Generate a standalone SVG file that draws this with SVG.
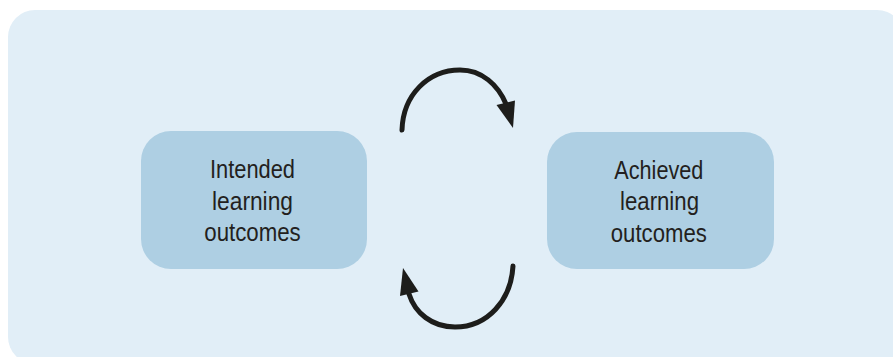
<svg xmlns="http://www.w3.org/2000/svg" width="893" height="357" viewBox="0 0 893 357">
<style>
.panel{fill:#e1eef7}
.box{fill:#aecfe3}
.lbl{font-family:"Liberation Sans","Roboto",Arial,sans-serif;font-size:26px;fill:#231f20;text-anchor:middle}
.arc{fill:none;stroke:#1d1d1b;stroke-width:5;stroke-linecap:round}
.head{fill:#1d1d1b}
</style>
<rect class="panel" x="8" y="10" width="896" height="354" rx="27" ry="27"/>
<g id="node-intended">
<rect class="box" x="141" y="131" width="226" height="138" rx="30" ry="30"/>
<text class="lbl" x="252.5" y="178" textLength="85" lengthAdjust="spacingAndGlyphs">Intended</text>
<text class="lbl" x="252.5" y="209.5" textLength="81" lengthAdjust="spacingAndGlyphs">learning</text>
<text class="lbl" x="252.5" y="241" textLength="96.5" lengthAdjust="spacingAndGlyphs">outcomes</text>
</g>
<g id="node-achieved">
<rect class="box" x="547" y="132" width="227" height="137" rx="30" ry="30"/>
<text class="lbl" x="658.8" y="179" textLength="89" lengthAdjust="spacingAndGlyphs">Achieved</text>
<text class="lbl" x="659.5" y="210" textLength="79" lengthAdjust="spacingAndGlyphs">learning</text>
<text class="lbl" x="658.8" y="241.5" textLength="96" lengthAdjust="spacingAndGlyphs">outcomes</text>
</g>
<g id="connectors">
<path class="arc" d="M402,130 C403,95 428,70 460,70 C482,70 498,85 506,104"/>
<polygon class="head" points="513,128 496.5,105 515,100.5"/>
<path class="arc" d="M513,266 C511,300 488,327 455,327 C432,327 415,313 409,294"/>
<polygon class="head" points="403,268 400,296 418.5,291.5"/>
</g>
</svg>
